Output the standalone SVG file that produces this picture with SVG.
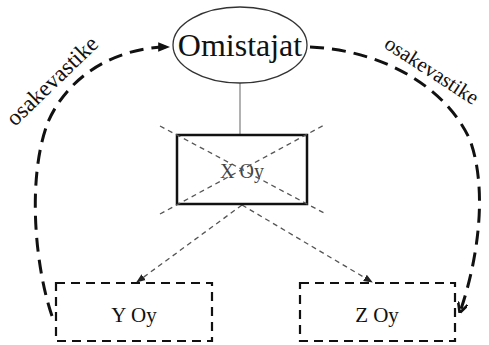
<svg xmlns="http://www.w3.org/2000/svg" width="489" height="345" viewBox="0 0 489 345">
<defs>
<style>
.lbl{font-family:"Liberation Serif","DejaVu Serif",serif;fill:#111}
.box{fill:#fff;stroke:#111;stroke-width:2.2;stroke-dasharray:9,6}
.big{fill:none;stroke:#111;stroke-width:3;stroke-dasharray:14,8}
.thin{fill:none;stroke:#555;stroke-width:1.3;stroke-dasharray:5,4}
</style>
<marker id="ah" viewBox="0 0 10 10" refX="9" refY="5" markerWidth="4" markerHeight="4" orient="auto" markerUnits="strokeWidth">
<path d="M0,1 L10,5 L0,9 Z" fill="#111"/>
</marker>
<marker id="av" viewBox="0 0 10 10" refX="9" refY="5" markerWidth="3.5" markerHeight="3.5" orient="auto" markerUnits="strokeWidth">
<path d="M0,0 L10,5 L0,10" fill="none" stroke="#111" stroke-width="2.5"/>
</marker>
<marker id="as" viewBox="0 0 10 10" refX="9" refY="5" markerWidth="7" markerHeight="7" orient="auto" markerUnits="strokeWidth">
<path d="M0,1 L10,5 L0,9 Z" fill="#222"/>
</marker>
</defs>
<rect width="489" height="345" fill="#fff"/>
<g id="connectors">
<line x1="240" y1="83" x2="240" y2="135" stroke="#888" stroke-width="1.3"/>
<path class="big" d="M52,316 C36,270 26,180 48,122 C70,72 120,47 169,47" marker-end="url(#ah)"/>
<path class="big" d="M310,47 C380,50 445,85 470,140 C488,190 478,260 460,312" marker-end="url(#av)"/>
<line class="thin" x1="242" y1="205" x2="137" y2="282" marker-end="url(#as)"/>
<line class="thin" x1="242" y1="205" x2="372" y2="282" marker-end="url(#as)"/>
</g>
<g id="Omistajat">
<ellipse cx="240" cy="45" rx="67" ry="38" fill="#fff" stroke="#333" stroke-width="1.3"/>
<text class="lbl" x="240" y="56" font-family="Liberation Serif, serif" font-size="32" text-anchor="middle">Omistajat</text>
</g>
<g id="XOy">
<rect x="177" y="135" width="130" height="69" fill="#fff" stroke="#111" stroke-width="2.5"/>
<text x="242" y="178" font-family="Liberation Serif, serif" font-size="20" text-anchor="middle" fill="#444">X Oy</text>
<line class="thin" x1="160" y1="126" x2="326" y2="214"/>
<line class="thin" x1="160" y1="214" x2="326" y2="124"/>
</g>
<g id="YOy">
<rect class="box" x="56" y="283" width="156" height="58"/>
<text class="lbl" x="134" y="322" font-family="Liberation Serif, serif" font-size="21" text-anchor="middle">Y Oy</text>
</g>
<g id="ZOy">
<rect class="box" x="300" y="283" width="155" height="58"/>
<text class="lbl" x="377" y="322" font-family="Liberation Serif, serif" font-size="21" text-anchor="middle">Z Oy</text>
</g>
<text class="lbl" x="15" y="127" font-family="Liberation Serif, serif" font-size="23" transform="rotate(-44 15 127)">osakevastike</text>
<text class="lbl" x="383" y="47" font-family="Liberation Serif, serif" font-size="21" transform="rotate(33 383 47)">osakevastike</text>
</svg>
